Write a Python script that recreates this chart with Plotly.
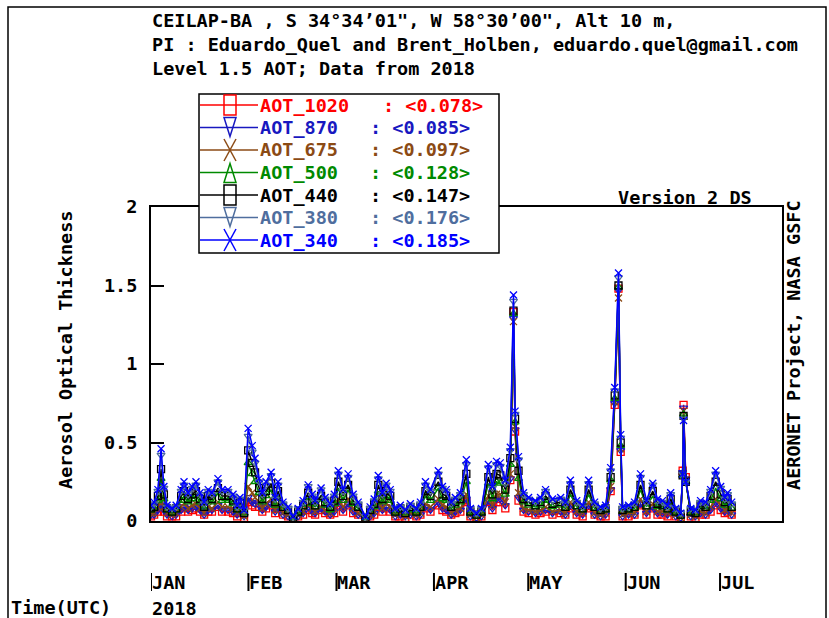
import plotly.graph_objects as go
import pandas as pd

# ---------------- data ----------------
days = [0.0, 1.0, 2.2, 3.2, 4.1, 5.1, 6.7, 8.0, 9.6, 10.5,
        11.8, 13.1, 14.3, 15.6, 16.9, 18.2, 19.4, 21.3, 22.6, 24.5,
        26.1, 27.4, 28.3, 29.6, 30.9, 32.2, 33.1, 34.4, 35.4, 36.6,
        38.2, 39.5, 40.4, 42.0, 43.6, 45.2, 46.8, 48.4, 50.0, 51.3,
        52.2, 54.1, 55.4, 57.0, 58.3, 59.6, 61.1, 62.7, 64.3, 65.9,
        68.2, 69.7, 71.0, 72.3, 73.6, 74.8, 76.1, 77.7, 79.3, 80.9,
        82.5, 84.4, 85.7, 87.3, 88.9, 91.4, 92.7, 93.9, 95.5, 96.8,
        98.4, 100.3, 101.6, 103.5, 105.1, 107.3, 108.6, 109.9, 111.1, 112.7,
        114.3, 115.3, 115.8, 116.9, 118.5, 120.1, 122.3, 123.9, 125.5, 127.7,
        130.3, 131.8, 133.4, 135.4, 137.3, 139.2, 141.1, 143.0, 144.6, 146.2,
        147.5, 148.7, 149.4, 150.0, 151.9, 153.8, 155.7, 157.6, 159.6, 161.1,
        162.7, 164.3, 165.3, 166.9, 168.5, 169.1, 169.4, 170.1, 171.7, 173.2,
        174.8, 176.4, 178.0, 179.6, 181.2, 182.5, 183.4, 184.7]

aot_340 = [0.10, 0.12, 0.20, 0.46, 0.22, 0.10, 0.08, 0.10, 0.20, 0.25,
           0.18, 0.22, 0.25, 0.18, 0.12, 0.20, 0.18, 0.27, 0.20, 0.20,
           0.17, 0.10, 0.15, 0.07, 0.59, 0.48, 0.40, 0.27, 0.18, 0.25,
           0.31, 0.15, 0.25, 0.12, 0.09, 0.03, 0.08, 0.13, 0.23, 0.17,
           0.13, 0.21, 0.15, 0.11, 0.17, 0.32, 0.20, 0.30, 0.17, 0.12,
           0.03, 0.09, 0.14, 0.29, 0.18, 0.24, 0.20, 0.08, 0.10, 0.07,
           0.11, 0.08, 0.12, 0.25, 0.20, 0.32, 0.22, 0.20, 0.12, 0.15,
           0.18, 0.39, 0.08, 0.05, 0.08, 0.36, 0.22, 0.38, 0.37, 0.26,
           0.47, 1.44, 0.70, 0.41, 0.18, 0.15, 0.13, 0.15, 0.20, 0.14,
           0.15, 0.12, 0.26, 0.13, 0.10, 0.26, 0.12, 0.09, 0.10, 0.34,
           0.85, 1.58, 0.55, 0.09, 0.10, 0.12, 0.30, 0.13, 0.24, 0.14,
           0.13, 0.10, 0.18, 0.08, 0.05, 0.30, 0.64, 0.25, 0.08, 0.07,
           0.13, 0.12, 0.20, 0.32, 0.22, 0.15, 0.18, 0.12]

aot_380 = [0.09, 0.11, 0.19, 0.42, 0.21, 0.09, 0.08, 0.09, 0.19, 0.23,
           0.17, 0.21, 0.23, 0.17, 0.11, 0.19, 0.17, 0.25, 0.19, 0.19,
           0.16, 0.09, 0.14, 0.07, 0.54, 0.44, 0.37, 0.25, 0.17, 0.23,
           0.29, 0.14, 0.23, 0.11, 0.08, 0.03, 0.08, 0.12, 0.22, 0.16,
           0.12, 0.20, 0.14, 0.10, 0.16, 0.30, 0.19, 0.28, 0.16, 0.11,
           0.03, 0.08, 0.13, 0.27, 0.17, 0.23, 0.19, 0.08, 0.09, 0.07,
           0.10, 0.08, 0.11, 0.23, 0.19, 0.30, 0.21, 0.19, 0.11, 0.14,
           0.17, 0.36, 0.08, 0.05, 0.08, 0.34, 0.21, 0.36, 0.35, 0.24,
           0.45, 1.40, 0.68, 0.39, 0.17, 0.14, 0.12, 0.14, 0.19, 0.13,
           0.14, 0.11, 0.24, 0.12, 0.09, 0.24, 0.11, 0.08, 0.09, 0.32,
           0.83, 1.55, 0.53, 0.08, 0.09, 0.11, 0.28, 0.12, 0.23, 0.13,
           0.12, 0.09, 0.17, 0.08, 0.05, 0.30, 0.65, 0.25, 0.08, 0.07,
           0.12, 0.11, 0.19, 0.30, 0.21, 0.14, 0.17, 0.11]

aot_440 = [0.08, 0.09, 0.16, 0.33, 0.17, 0.08, 0.06, 0.08, 0.16, 0.19,
           0.14, 0.17, 0.19, 0.14, 0.09, 0.16, 0.14, 0.21, 0.16, 0.16,
           0.13, 0.08, 0.12, 0.05, 0.45, 0.37, 0.31, 0.21, 0.14, 0.19,
           0.24, 0.12, 0.19, 0.09, 0.07, 0.02, 0.06, 0.10, 0.18, 0.13,
           0.10, 0.16, 0.12, 0.09, 0.13, 0.25, 0.16, 0.23, 0.13, 0.09,
           0.02, 0.07, 0.11, 0.23, 0.14, 0.19, 0.16, 0.06, 0.08, 0.05,
           0.09, 0.06, 0.09, 0.19, 0.16, 0.25, 0.17, 0.16, 0.09, 0.12,
           0.14, 0.30, 0.06, 0.04, 0.06, 0.28, 0.17, 0.30, 0.29, 0.20,
           0.40, 1.34, 0.65, 0.32, 0.14, 0.12, 0.10, 0.12, 0.16, 0.11,
           0.12, 0.09, 0.20, 0.10, 0.08, 0.20, 0.09, 0.07, 0.08, 0.28,
           0.80, 1.50, 0.50, 0.07, 0.08, 0.09, 0.23, 0.10, 0.19, 0.11,
           0.10, 0.08, 0.14, 0.06, 0.04, 0.29, 0.67, 0.25, 0.06, 0.05,
           0.10, 0.09, 0.16, 0.25, 0.17, 0.12, 0.14, 0.09]

aot_500 = [0.07, 0.08, 0.13, 0.27, 0.14, 0.07, 0.05, 0.07, 0.13, 0.16,
           0.12, 0.14, 0.16, 0.12, 0.08, 0.13, 0.12, 0.18, 0.13, 0.13,
           0.11, 0.07, 0.10, 0.05, 0.37, 0.30, 0.25, 0.18, 0.12, 0.16,
           0.20, 0.10, 0.16, 0.08, 0.06, 0.02, 0.05, 0.09, 0.15, 0.11,
           0.09, 0.14, 0.10, 0.07, 0.11, 0.21, 0.13, 0.20, 0.11, 0.08,
           0.02, 0.06, 0.09, 0.19, 0.12, 0.16, 0.13, 0.05, 0.07, 0.05,
           0.07, 0.05, 0.08, 0.16, 0.13, 0.21, 0.14, 0.13, 0.08, 0.10,
           0.12, 0.25, 0.05, 0.03, 0.05, 0.24, 0.14, 0.25, 0.24, 0.17,
           0.36, 1.32, 0.63, 0.27, 0.12, 0.10, 0.09, 0.10, 0.13, 0.09,
           0.10, 0.08, 0.17, 0.09, 0.07, 0.17, 0.08, 0.06, 0.07, 0.26,
           0.78, 1.49, 0.48, 0.06, 0.07, 0.08, 0.20, 0.09, 0.16, 0.09,
           0.09, 0.07, 0.12, 0.05, 0.03, 0.29, 0.68, 0.25, 0.05, 0.05,
           0.09, 0.08, 0.13, 0.21, 0.14, 0.10, 0.12, 0.08]

aot_675 = [0.05, 0.05, 0.09, 0.15, 0.09, 0.05, 0.04, 0.05, 0.09, 0.11,
           0.08, 0.10, 0.11, 0.08, 0.05, 0.09, 0.08, 0.12, 0.09, 0.09,
           0.08, 0.05, 0.07, 0.03, 0.22, 0.18, 0.15, 0.12, 0.08, 0.11,
           0.14, 0.07, 0.11, 0.05, 0.04, 0.02, 0.04, 0.06, 0.10, 0.08,
           0.06, 0.09, 0.07, 0.05, 0.08, 0.14, 0.09, 0.14, 0.08, 0.05,
           0.02, 0.04, 0.06, 0.13, 0.08, 0.11, 0.09, 0.04, 0.05, 0.03,
           0.05, 0.04, 0.05, 0.11, 0.09, 0.14, 0.10, 0.09, 0.05, 0.07,
           0.08, 0.17, 0.04, 0.02, 0.04, 0.16, 0.10, 0.17, 0.17, 0.12,
           0.30, 1.27, 0.60, 0.18, 0.08, 0.07, 0.06, 0.07, 0.09, 0.06,
           0.07, 0.05, 0.12, 0.06, 0.05, 0.12, 0.05, 0.04, 0.05, 0.22,
           0.76, 1.42, 0.46, 0.04, 0.05, 0.05, 0.14, 0.06, 0.11, 0.06,
           0.06, 0.05, 0.08, 0.04, 0.02, 0.30, 0.70, 0.26, 0.04, 0.03,
           0.06, 0.05, 0.09, 0.14, 0.10, 0.07, 0.08, 0.05]

aot_870 = [0.04, 0.04, 0.07, 0.10, 0.07, 0.04, 0.03, 0.04, 0.07, 0.09,
           0.07, 0.08, 0.09, 0.07, 0.04, 0.07, 0.07, 0.10, 0.07, 0.07,
           0.06, 0.04, 0.06, 0.03, 0.15, 0.12, 0.11, 0.10, 0.07, 0.09,
           0.11, 0.06, 0.09, 0.04, 0.03, 0.01, 0.03, 0.05, 0.09, 0.06,
           0.05, 0.08, 0.06, 0.04, 0.06, 0.12, 0.07, 0.11, 0.06, 0.04,
           0.01, 0.03, 0.05, 0.11, 0.07, 0.09, 0.07, 0.03, 0.04, 0.03,
           0.04, 0.03, 0.04, 0.09, 0.07, 0.12, 0.08, 0.07, 0.04, 0.06,
           0.07, 0.14, 0.03, 0.02, 0.03, 0.13, 0.08, 0.14, 0.14, 0.10,
           0.27, 1.29, 0.58, 0.15, 0.07, 0.06, 0.05, 0.06, 0.07, 0.05,
           0.06, 0.04, 0.10, 0.05, 0.04, 0.10, 0.04, 0.03, 0.04, 0.20,
           0.75, 1.47, 0.45, 0.03, 0.04, 0.04, 0.11, 0.05, 0.09, 0.05,
           0.05, 0.04, 0.07, 0.03, 0.02, 0.31, 0.72, 0.27, 0.03, 0.03,
           0.05, 0.04, 0.07, 0.12, 0.08, 0.06, 0.07, 0.04]

aot_1020 = [0.03, 0.04, 0.06, 0.08, 0.06, 0.03, 0.03, 0.03, 0.06, 0.08,
            0.06, 0.07, 0.08, 0.06, 0.04, 0.06, 0.06, 0.09, 0.06, 0.06,
            0.05, 0.03, 0.05, 0.02, 0.12, 0.10, 0.09, 0.09, 0.06, 0.08,
            0.10, 0.05, 0.08, 0.04, 0.03, 0.01, 0.03, 0.04, 0.07, 0.05,
            0.04, 0.07, 0.05, 0.04, 0.05, 0.10, 0.06, 0.10, 0.05, 0.04,
            0.01, 0.03, 0.04, 0.09, 0.06, 0.08, 0.06, 0.03, 0.03, 0.02,
            0.04, 0.03, 0.04, 0.08, 0.06, 0.10, 0.07, 0.06, 0.04, 0.05,
            0.06, 0.12, 0.03, 0.02, 0.03, 0.12, 0.07, 0.12, 0.12, 0.08,
            0.26, 1.33, 0.57, 0.13, 0.06, 0.05, 0.04, 0.05, 0.06, 0.04,
            0.05, 0.04, 0.08, 0.04, 0.03, 0.08, 0.04, 0.03, 0.03, 0.19,
            0.74, 1.48, 0.44, 0.03, 0.03, 0.04, 0.10, 0.04, 0.08, 0.04,
            0.04, 0.03, 0.06, 0.03, 0.02, 0.32, 0.74, 0.28, 0.03, 0.02,
            0.04, 0.04, 0.06, 0.10, 0.07, 0.05, 0.06, 0.04]

names = ["AOT_1020", "AOT_870", "AOT_675", "AOT_500", "AOT_440", "AOT_380", "AOT_340"]
means = ["0.078", "0.085", "0.097", "0.128", "0.147", "0.176", "0.185"]
series = [aot_1020, aot_870, aot_675, aot_500, aot_440, aot_380, aot_340]

months = ["JAN", "FEB", "MAR", "APR", "MAY", "JUN", "JUL"]
month_starts = ["2018-01-01", "2018-02-01", "2018-03-01", "2018-04-01",
                "2018-05-01", "2018-06-01", "2018-07-01"]

ytick_vals = [0, 0.5, 1, 1.5, 2]
ytick_text = ["0", "0.5", "1", "1.5", "2"]

title_lines = ["CEILAP-BA , S 34°34’01\", W 58°30’00\", Alt 10 m,",
               "PI : Eduardo_Quel and Brent_Holben, eduardo.quel@gmail.com",
               "Level 1.5 AOT; Data from 2018"]

# ---------------- styles ----------------
colors = ["#ff0000", "#1818c0", "#8b4a14", "#008a00", "#000000", "#4f6e9e", "#0000ff"]
symbols = ["square-open", "triangle-down-open", "x-thin-open", "triangle-up-open",
           "square-open", "triangle-down-open", "x-thin-open"]
legend_marks = ["square", "tri-down", "x", "tri-up", "square", "tri-down", "x"]

FONT = "DejaVu Sans Mono"
FS = 18.5
W, H = 829, 618
L, R, T, B = 151, 782, 207, 521


def px(x):
    return (x - L) / (R - L)


def py(y):
    return (B - y) / (B - T)


t0 = pd.Timestamp("2018-01-01")
times = [t0 + pd.Timedelta(days=d) for d in days]

fig = go.Figure()
for name, vals, col, sym in zip(names, series, colors, symbols):
    fig.add_trace(go.Scatter(
        x=times, y=vals, mode="lines+markers", name=name,
        line=dict(color=col, width=1.5),
        marker=dict(symbol=sym, size=7, color=col, line=dict(color=col, width=1.3)),
        showlegend=False,
    ))

bold = dict(family=FONT, size=FS, color="black", weight="bold")

annotations = []
shapes = []

# outer frame
shapes.append(dict(type="rect", xref="paper", yref="paper",
                   x0=px(8), x1=px(826), y0=py(640), y1=py(7),
                   line=dict(color="black", width=1.5), layer="above"))

# title lines
for i, line in enumerate(title_lines):
    annotations.append(dict(text=line, xref="paper", yref="paper",
                            x=px(150), y=py(20 + 24 * i), xanchor="left",
                            yanchor="middle", showarrow=False, font=bold))

annotations.append(dict(text="Version 2 DS", xref="paper", yref="paper",
                        x=px(754), y=py(197), xanchor="right", yanchor="middle",
                        showarrow=False, font=bold))
annotations.append(dict(text="Aerosol Optical Thickness", xref="paper", yref="paper",
                        x=px(65), y=py(350), textangle=-90, xanchor="center",
                        yanchor="middle", showarrow=False, font=bold))
annotations.append(dict(text="AERONET Project, NASA GSFC", xref="paper", yref="paper",
                        x=px(793), y=py(345), textangle=-90, xanchor="center",
                        yanchor="middle", showarrow=False, font=bold))
annotations.append(dict(text="2018", xref="paper", yref="paper",
                        x=px(150), y=py(608), xanchor="left", yanchor="middle",
                        showarrow=False, font=bold))
annotations.append(dict(text="Time(UTC)", xref="paper", yref="paper",
                        x=px(9), y=py(607), xanchor="left", yanchor="middle",
                        showarrow=False, font=bold))

# month labels with bar
for m, ms in zip(months, month_starts):
    annotations.append(dict(text=m, xref="x", yref="paper", x=ms, y=py(582),
                            xanchor="left", yanchor="middle", xshift=-1,
                            showarrow=False, font=bold))
    shapes.append(dict(type="line", xref="x", yref="paper", x0=ms, x1=ms,
                       y0=py(573), y1=py(591), line=dict(color="black", width=2)))

# legend box
shapes.append(dict(type="rect", xref="paper", yref="paper",
                   x0=px(199), x1=px(499), y0=py(253), y1=py(94),
                   fillcolor="white", line=dict(color="black", width=1.5),
                   layer="above"))
for i, (name, mean, col, mk) in enumerate(zip(names, means, colors, legend_marks)):
    yy = 105 + 22.5 * i
    shapes.append(dict(type="line", xref="paper", yref="paper",
                       x0=px(200), x1=px(258), y0=py(yy), y1=py(yy),
                       line=dict(color=col, width=1.5), layer="above"))
    cx = 230
    if mk == "square":
        shapes.append(dict(type="rect", xref="paper", yref="paper",
                           x0=px(cx - 6), x1=px(cx + 6), y0=py(yy + 10), y1=py(yy - 10),
                           line=dict(color=col, width=1.5), layer="above"))
    elif mk == "x":
        shapes.append(dict(type="line", xref="paper", yref="paper",
                           x0=px(cx - 6), x1=px(cx + 6), y0=py(yy - 11), y1=py(yy + 11),
                           line=dict(color=col, width=1.5), layer="above"))
        shapes.append(dict(type="line", xref="paper", yref="paper",
                           x0=px(cx - 6), x1=px(cx + 6), y0=py(yy + 11), y1=py(yy - 11),
                           line=dict(color=col, width=1.5), layer="above"))
    else:
        if mk == "tri-down":
            pts = [(cx - 6, yy - 10), (cx + 6, yy - 10), (cx, yy + 9)]
        else:
            pts = [(cx - 6, yy + 10), (cx + 6, yy + 10), (cx, yy - 9)]
        path = "M {} {} L {} {} L {} {} Z".format(px(pts[0][0]), py(pts[0][1]),
                                                 px(pts[1][0]), py(pts[1][1]),
                                                 px(pts[2][0]), py(pts[2][1]))
        shapes.append(dict(type="path", xref="paper", yref="paper", path=path,
                           line=dict(color=col, width=1.5), layer="above"))
    tf = dict(family=FONT, size=FS, color=col, weight="bold")
    annotations.append(dict(text=name, xref="paper", yref="paper", x=px(258), y=py(yy),
                            xanchor="left", yanchor="middle", showarrow=False, font=tf))
    annotations.append(dict(text=": &lt;" + mean + "&gt;", xref="paper", yref="paper",
                            x=px(381 if i == 0 else 368), y=py(yy),
                            xanchor="left", yanchor="middle", showarrow=False, font=tf))

fig.update_layout(
    width=W, height=H,
    margin=dict(l=L, r=W - R, t=T, b=H - B, pad=0),
    paper_bgcolor="white", plot_bgcolor="white",
    font=dict(family=FONT, size=FS, color="black"),
    xaxis=dict(range=[t0, pd.Timestamp("2018-07-20 17:00")], showline=True, mirror=True,
               linecolor="black", linewidth=2, showgrid=False, zeroline=False,
               ticks="", showticklabels=False),
    yaxis=dict(range=[0, 2], tickvals=ytick_vals, ticktext=ytick_text,
               ticks="inside", ticklen=13, tickwidth=2, tickcolor="black",
               showline=True, mirror=True, linecolor="black", linewidth=2,
               showgrid=False, zeroline=False, ticklabelstandoff=8,
               tickfont=dict(family=FONT, size=FS, color="black", weight="bold")),
    annotations=annotations,
    shapes=shapes,
    showlegend=False,
)

fig.write_html("out.html", config={"displayModeBar": False},
               post_script="document.body.style.margin='0';document.body.style.padding='0';")
